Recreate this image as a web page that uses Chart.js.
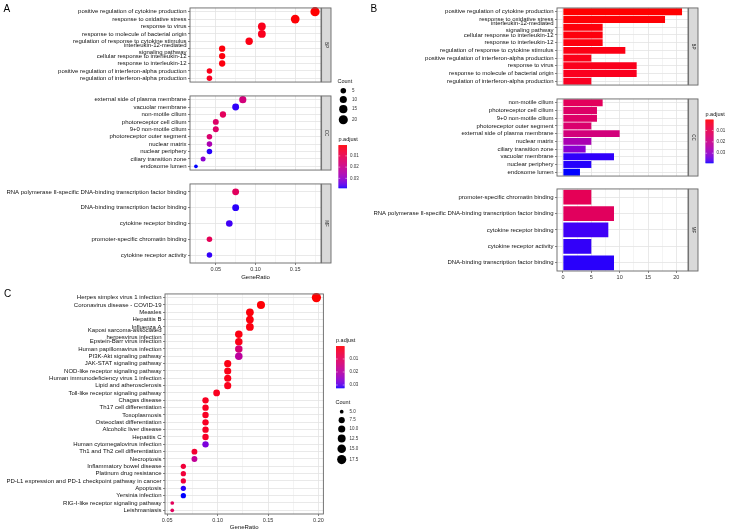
<!DOCTYPE html>
<html>
<head>
<meta charset="utf-8">
<title>GO / KEGG enrichment</title>
<script src="https://cdn.jsdelivr.net/npm/chart.js@4.4.1/dist/chart.umd.min.js"></script>
<style>
  body { margin: 0; background: #fff; }
  #page { position: relative; width: 729px; height: 531px; overflow: hidden; background: #fff; }
  #page canvas { position: absolute; }
</style>
</head>
<body>
<div id="page">
  <canvas id="overlay" width="729" height="531" style="left:0;top:0;width:729px;height:531px"></canvas>
</div>
<script>
// ---- GO terms (panel A order: GeneRatio, ties by p.adjust) ----
const bpTerms = ['positive regulation of cytokine production', 'response to oxidative stress', 'response to virus',
  'response to molecule of bacterial origin', 'regulation of response to cytokine stimulus',
  'interleukin-12-mediated\nsignaling pathway', 'cellular response to interleukin-12', 'response to interleukin-12',
  'positive regulation of interferon-alpha production', 'regulation of interferon-alpha production'];
const bpRatio = [0.175, 0.150, 0.108, 0.108, 0.092, 0.058, 0.058, 0.058, 0.042, 0.042];
const bpCount = [21, 18, 13, 13, 11, 7, 7, 7, 5, 5];
const bpPadj = [0.0003, 0.0006, 0.0024, 0.0026, 0.0016, 0.0010, 0.0011, 0.0012, 0.0021, 0.0031];

const ccTerms = ['external side of plasma membrane', 'vacuolar membrane', 'non-motile cilium', 'photoreceptor cell cilium',
  '9+0 non-motile cilium', 'photoreceptor outer segment', 'nuclear matrix', 'nuclear periphery',
  'ciliary transition zone', 'endosome lumen'];
const ccRatio = [0.084, 0.075, 0.059, 0.050, 0.050, 0.042, 0.042, 0.042, 0.034, 0.025];
const ccCount = [10, 9, 7, 6, 6, 5, 5, 5, 4, 3];
const ccPadj = [0.0170, 0.0378, 0.0118, 0.0136, 0.0138, 0.0148, 0.0262, 0.0381, 0.0312, 0.0386];

const mfTerms = ['RNA polymerase II-specific DNA-binding transcription factor binding',
  'DNA-binding transcription factor binding', 'cytokine receptor binding',
  'promoter-specific chromatin binding', 'cytokine receptor activity'];
const mfRatio = [0.075, 0.075, 0.067, 0.042, 0.042];
const mfCount = [9, 9, 8, 5, 5];
const mfPadj = [0.0122, 0.0380, 0.0372, 0.0110, 0.0377];

// ---- KEGG pathways (panel C) ----
const keggTerms = ['Herpes simplex virus 1 infection', 'Coronavirus disease - COVID-19', 'Measles', 'Hepatitis B',
  'Influenza A', 'Kaposi sarcoma-associated\nherpesvirus infection', 'Epstein-Barr virus infection',
  'Human papillomavirus infection', 'PI3K-Akt signaling pathway', 'JAK-STAT signaling pathway',
  'NOD-like receptor signaling pathway', 'Human immunodeficiency virus 1 infection', 'Lipid and atherosclerosis',
  'Toll-like receptor signaling pathway', 'Chagas disease', 'Th17 cell differentiation', 'Toxoplasmosis',
  'Osteoclast differentiation', 'Alcoholic liver disease', 'Hepatitis C', 'Human cytomegalovirus infection',
  'Th1 and Th2 cell differentiation', 'Necroptosis', 'Inflammatory bowel disease', 'Platinum drug resistance',
  'PD-L1 expression and PD-1 checkpoint pathway in cancer', 'Apoptosis', 'Yersinia infection',
  'RIG-I-like receptor signaling pathway', 'Leishmaniasis'];
const keggRatio = [0.198, 0.143, 0.132, 0.132, 0.132, 0.121, 0.121, 0.121, 0.121, 0.110, 0.110, 0.110, 0.110,
  0.099, 0.088, 0.088, 0.088, 0.088, 0.088, 0.088, 0.088, 0.077, 0.077, 0.066, 0.066, 0.066, 0.066, 0.066,
  0.055, 0.055];
const keggCount = [18, 13, 12, 12, 12, 11, 11, 11, 11, 10, 10, 10, 10, 9, 8, 8, 8, 8, 8, 8, 8, 7, 7, 6, 6, 6, 6, 6, 5, 5];
const keggPadj = [0.00002, 0.0004, 0.0006, 0.0008, 0.0009, 0.0011, 0.0013, 0.0135, 0.0190, 0.0012, 0.0014, 0.0016,
  0.0018, 0.0022, 0.0024, 0.0025, 0.0026, 0.0027, 0.0028, 0.0030, 0.0275, 0.0040, 0.0180, 0.0050, 0.0052,
  0.0055, 0.0318, 0.0323, 0.0095, 0.0100];

// axis ticks and legend breaks
const goRatioTicks = [0.05, 0.10, 0.15];
const goCountTicks = [0, 5, 10, 15, 20];
const keggRatioTicks = [0.05, 0.10, 0.15, 0.20];
const padjBreaks = [0.01, 0.02, 0.03];
const goCountBreaks = [5, 10, 15, 20];
const keggCountBreaks = [5, 7.5, 10, 12.5, 15, 17.5];

const FONT = '"Liberation Sans", Arial, sans-serif';
const GRID = '#e3e3e3';
const INK = '#111';
const PX = 0.39;   // pt -> px for this figure

Chart.defaults.font.family = FONT;
Chart.defaults.color = INK;
Chart.defaults.animation = false;
Chart.defaults.plugins.legend.display = false;
Chart.defaults.plugins.tooltip.enabled = false;

// red -> blue in Lab, like ggplot's continuous colour scale
const LAB_RED = [53.2408, 80.0925, 67.2032];
const LAB_BLUE = [32.2970, 79.1875, -107.8602];
function labMix(t) {
  t = Math.min(1, Math.max(0, t));
  const L = LAB_RED[0] + (LAB_BLUE[0] - LAB_RED[0]) * t;
  const A = LAB_RED[1] + (LAB_BLUE[1] - LAB_RED[1]) * t;
  const B = LAB_RED[2] + (LAB_BLUE[2] - LAB_RED[2]) * t;
  const fy = (L + 16) / 116, fx = fy + A / 500, fz = fy - B / 200;
  const inv = v => v * v * v > 0.008856 ? v * v * v : (v - 16 / 116) / 7.787;
  const X = 0.95047 * inv(fx), Y = inv(fy), Z = 1.08883 * inv(fz);
  const lin = [3.2404542 * X - 1.5371385 * Y - 0.4985314 * Z,
    -0.9692660 * X + 1.8760108 * Y + 0.0415560 * Z,
    0.0556434 * X - 0.2040259 * Y + 1.0572252 * Z];
  const c = lin.map(v => {
    v = Math.min(1, Math.max(0, v));
    v = v <= 0.0031308 ? 12.92 * v : 1.055 * Math.pow(v, 1 / 2.4) - 0.055;
    return Math.round(v * 255);
  });
  return 'rgb(' + c.join(',') + ')';
}
function padjScale(vals) {
  const lo = Math.min(...vals), hi = Math.max(...vals);
  const f = p => labMix((p - lo) / (hi - lo));
  f.lo = lo; f.hi = hi;
  return f;
}
// clusterProfiler size scale: area, range 3..8
function sizeScale(vals) {
  const lo = Math.min(...vals), hi = Math.max(...vals);
  return c => 0.5 * PX * (2.845 * (3 + 5 * Math.sqrt((c - lo) / (hi - lo))) + 0.945);
}

const page = document.getElementById('page');
function addCanvas(left, top, w, h) {
  const cv = document.createElement('canvas');
  cv.width = w; cv.height = h;
  cv.style.left = left + 'px'; cv.style.top = top + 'px';
  cv.style.width = w + 'px'; cv.style.height = h + 'px';
  page.appendChild(cv);
  return cv;
}

// panel border + facet strip
const framePlugin = {
  id: 'frame',
  afterDraw(chart, args, opts) {
    const a = chart.chartArea, c = chart.ctx;
    c.save();
    c.strokeStyle = '#666';
    c.lineWidth = 0.9;
    c.strokeRect(a.left, a.top, a.right - a.left, a.bottom - a.top);
    if (opts.strip) {
      const x = a.right + 0.6, w = 9.4, h = a.bottom - a.top;
      c.fillStyle = '#d9d9d9';
      c.fillRect(x, a.top, w, h);
      c.strokeRect(x, a.top, w, h);
      c.translate(x + w / 2, a.top + h / 2);
      c.rotate(Math.PI / 2);
      c.fillStyle = '#1a1a1a';
      c.font = '4.5px ' + FONT;
      c.textAlign = 'center';
      c.textBaseline = 'middle';
      c.fillText(opts.strip, 0, 0);
    }
    c.restore();
  }
};

function near(a, b) { return Math.abs(a - b) < 1e-9; }

function xScale(cfg) {
  const major = cfg.ticks;
  const step = major[1] - major[0];
  const vals = [];
  [major[0] - step / 2, ...major.flatMap(v => [v, v + step / 2])].forEach(v => {
    if (v >= cfg.min && v <= cfg.max) vals.push(v);
  });
  const isMajor = v => major.some(m => near(m, v));
  return {
    type: 'linear', min: cfg.min, max: cfg.max,
    afterBuildTicks: s => { s.ticks = vals.map(v => ({ value: v })); },
    grid: {
      color: GRID,
      lineWidth: ctx => isMajor(ctx.tick.value) ? 0.8 : 0.4,
      drawTicks: cfg.showAxis, tickLength: 2, tickWidth: 0.6,
      tickColor: ctx => isMajor(ctx.tick.value) ? '#333' : 'rgba(0,0,0,0)'
    },
    border: { display: false },
    ticks: {
      display: cfg.showAxis, autoSkip: false, maxRotation: 0, padding: 1,
      font: { size: 5.5 }, color: '#333',
      callback: v => {
        const i = major.findIndex(m => near(m, v));
        return i < 0 ? '' : cfg.labels[i];
      }
    },
    title: { display: !!cfg.title, text: cfg.title, font: { size: 6 }, padding: { top: 1, bottom: 0 }, color: INK },
    afterFit: s => { s.height = cfg.axisH; }
  };
}

function yScale(terms, yw) {
  return {
    type: 'category',
    labels: terms.map(t => t.includes('\n') ? t.split('\n') : t),
    offset: true,
    grid: { offset: false, color: GRID, lineWidth: 0.8, tickLength: 2, tickColor: '#333', tickWidth: 0.6 },
    border: { display: false },
    ticks: { autoSkip: false, padding: 1.5, font: { size: 6, lineHeight: 1.15 }, color: INK },
    afterFit: s => { s.width = yw; }
  };
}

function dotFacet(f) {
  const cv = addCanvas(f.left, f.top, f.width, f.height);
  return new Chart(cv, {
    type: 'scatter',
    data: {
      datasets: [{
        data: f.terms.map((t, i) => ({ x: f.ratio[i], y: i })),
        pointRadius: f.count.map(f.size),
        pointHoverRadius: f.count.map(f.size),
        pointBackgroundColor: f.padj.map(f.color),
        pointBorderWidth: 0,
        clip: false
      }]
    },
    options: {
      responsive: false, maintainAspectRatio: false, events: [],
      layout: { padding: { left: 0, right: f.padRight, top: 0, bottom: 0 } },
      scales: { x: xScale(f.x), y: yScale(f.terms, f.yw) },
      plugins: { frame: { strip: f.strip } }
    },
    plugins: [framePlugin]
  });
}

// bar facets list the same terms ordered by p.adjust
function barFacet(f) {
  const order = f.terms.map((t, i) => i).sort((a, b) => f.padj[a] - f.padj[b]);
  const terms = order.map(i => f.terms[i]);
  const cv = addCanvas(f.left, f.top, f.width, f.height);
  return new Chart(cv, {
    type: 'bar',
    data: {
      labels: terms,
      datasets: [{
        data: order.map(i => f.count[i]),
        backgroundColor: order.map(i => f.color(f.padj[i])),
        borderWidth: 0,
        barPercentage: 0.9,
        categoryPercentage: 1
      }]
    },
    options: {
      indexAxis: 'y',
      responsive: false, maintainAspectRatio: false, events: [],
      layout: { padding: { left: 0, right: f.padRight, top: 0, bottom: 0 } },
      scales: { x: xScale(f.x), y: yScale(terms, f.yw) },
      plugins: { frame: { strip: f.strip } }
    },
    plugins: [framePlugin]
  });
}

// ---------- panel A ----------
const goColor = padjScale([...bpPadj, ...ccPadj, ...mfPadj]);
const goSize = sizeScale([...bpCount, ...ccCount, ...mfCount]);
const goRatioLabels = goRatioTicks.map(v => v.toFixed(2));
const aX = show => ({ min: 0.0175, max: 0.1825, ticks: goRatioTicks, labels: goRatioLabels, showAxis: show,
  title: show ? 'GeneRatio' : '', axisH: show ? 18 : 0 });
const goFacets = [
  { terms: bpTerms, ratio: bpRatio, count: bpCount, padj: bpPadj, strip: 'BP' },
  { terms: ccTerms, ratio: ccRatio, count: ccCount, padj: ccPadj, strip: 'CC' },
  { terms: mfTerms, ratio: mfRatio, count: mfCount, padj: mfPadj, strip: 'MF' }
];
const aTops = [3, 91, 179], aH = 84;
goFacets.forEach((g, k) => {
  const last = k === goFacets.length - 1;
  dotFacet(Object.assign({}, g, {
    left: 0, top: aTops[k], width: 332, height: aH + (last ? 18 : 0), yw: 190, padRight: 11,
    color: goColor, size: goSize, x: aX(last)
  }));
});

// ---------- panel B ----------
const bTops = [3, 93.5, 184], bH = 87;
goFacets.forEach((g, k) => {
  const last = k === goFacets.length - 1;
  barFacet(Object.assign({}, g, {
    left: 366, top: bTops[k], width: 333, height: bH + (last ? 12 : 0), yw: 191, padRight: 11,
    color: goColor,
    x: { min: -1.05, max: 22.05, ticks: goCountTicks, labels: goCountTicks.map(String), showAxis: last,
      title: '', axisH: last ? 12 : 0 }
  }));
});

// ---------- panel C ----------
const keggColor = padjScale(keggPadj);
const keggSize = sizeScale(keggCount);
dotFacet({
  terms: keggTerms, ratio: keggRatio, count: keggCount, padj: keggPadj,
  left: 0, top: 289, width: 328, height: 242, yw: 165, padRight: 0,
  color: keggColor, size: keggSize,
  x: { min: 0.0478, max: 0.2049, ticks: keggRatioTicks, labels: keggRatioTicks.map(v => v.toFixed(2)),
    showAxis: true, title: 'GeneRatio', axisH: 17 }
});

// ---------- panel letters and legends ----------
const ov = document.getElementById('overlay').getContext('2d');
ov.fillStyle = '#000';
ov.font = '10px ' + FONT;
ov.fillText('A', 3.5, 12);
ov.fillText('B', 370.5, 12);
ov.fillText('C', 4, 297);

function colorbar(x, y, w, h, scale, labelX) {
  ov.save();
  ov.font = '5.5px ' + FONT;
  ov.fillStyle = INK;
  ov.textBaseline = 'middle';
  ov.fillText('p.adjust', x, y - 5.5);
  const n = Math.round(h * 2);
  for (let i = 0; i < n; i++) {
    const p = scale.lo + (scale.hi - scale.lo) * (i + 0.5) / n;
    ov.fillStyle = scale(p);
    ov.fillRect(x, y + i * h / n, w, h / n + 0.3);
  }
  ov.font = '4.5px ' + FONT;
  padjBreaks.forEach(b => {
    const yy = y + (b - scale.lo) / (scale.hi - scale.lo) * h;
    ov.strokeStyle = 'rgba(255,255,255,0.9)';
    ov.lineWidth = 0.5;
    ov.beginPath();
    ov.moveTo(x, yy); ov.lineTo(x + w * 0.2, yy);
    ov.moveTo(x + w * 0.8, yy); ov.lineTo(x + w, yy);
    ov.stroke();
    ov.fillStyle = '#333';
    ov.fillText(b.toFixed(2), labelX, yy);
  });
  ov.restore();
}

function countLegend(x, y, breaks, labels, rad, dotX, labelX) {
  ov.save();
  ov.font = '5.5px ' + FONT;
  ov.fillStyle = INK;
  ov.textBaseline = 'middle';
  ov.fillText('Count', x, y);
  let cy = y + 4.7, prev = 0;
  breaks.forEach((b, i) => {
    const r = rad(b), key = Math.max(2 * r + 2, 8.5);
    cy += i === 0 ? key / 2 : (prev + key) / 2;
    prev = key;
    ov.fillStyle = '#000';
    ov.beginPath();
    ov.arc(dotX, cy, r, 0, Math.PI * 2);
    ov.fill();
    ov.fillStyle = '#333';
    ov.font = '4.5px ' + FONT;
    ov.fillText(labels[i], labelX, cy);
  });
  ov.restore();
}

countLegend(337.5, 81.7, goCountBreaks, goCountBreaks.map(String), goSize, 343.3, 352);
colorbar(338.5, 145, 8.5, 43, goColor, 350);
colorbar(705.5, 119.5, 8, 43.5, goColor, 716.5);
colorbar(336, 346, 8.5, 42, keggColor, 349.5);
countLegend(335.5, 402.7, keggCountBreaks, keggCountBreaks.map(v => v.toFixed(1)), keggSize, 341.7, 349.5);
</script>
</body>
</html>
